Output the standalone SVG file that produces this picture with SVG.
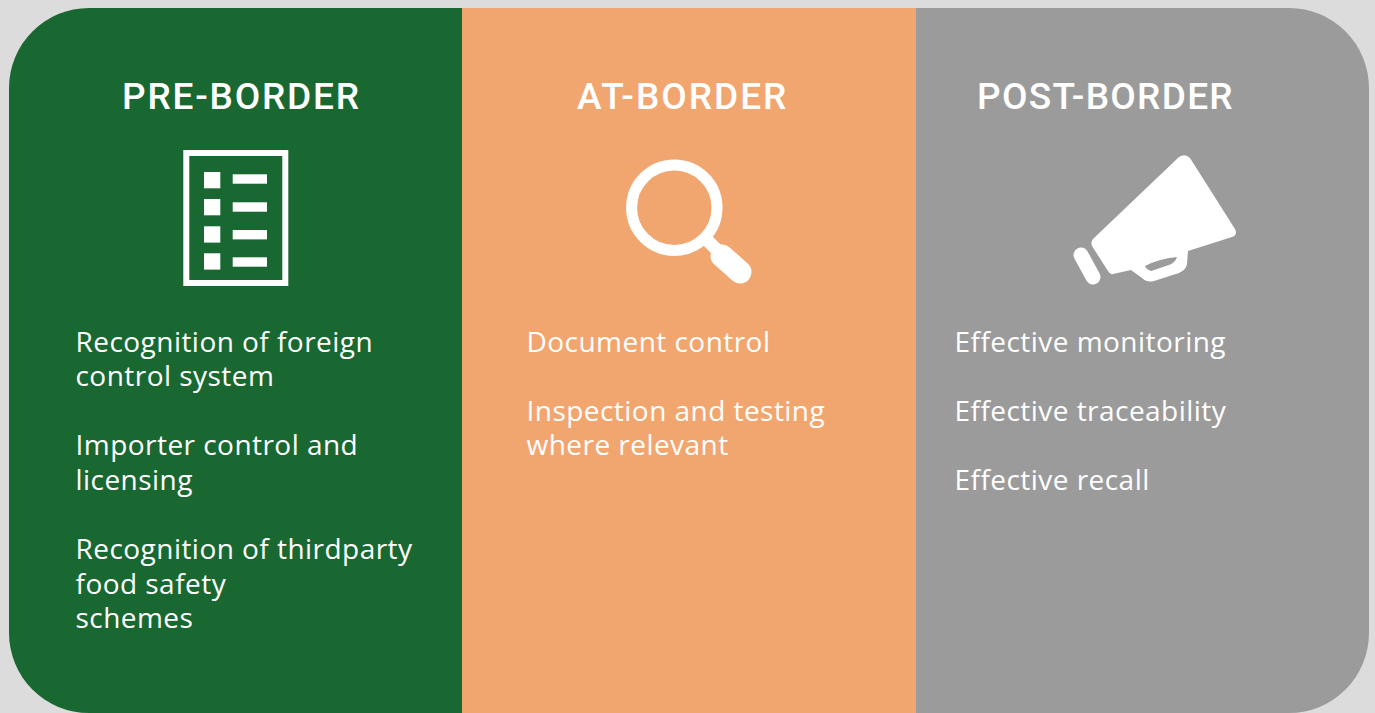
<svg xmlns="http://www.w3.org/2000/svg" width="1375" height="713" viewBox="0 0 1375 713">
<style>
.h{font-family:"Roboto","Liberation Sans",sans-serif;font-weight:500;font-size:37px;fill:#fff;letter-spacing:1.5px}
.b{font-family:"Open Sans","Liberation Sans",sans-serif;font-size:28px;fill:#fff;letter-spacing:.46px}
.w{fill:#fff}
</style>
<rect width="1375" height="713" fill="#dcdcdc"/>
<g id="pre-border">
<path d="M462 8H89A80 80 0 0 0 9 88V633A80 80 0 0 0 89 713H462Z" fill="#1a6831"/>
<text class="h" x="122" y="109" style="letter-spacing:1.8px">PRE-BORDER</text>
<rect x="186.3" y="153" width="99" height="130" fill="none" stroke="#fff" stroke-width="6"/>
<g class="w">
<rect x="204" y="172" width="16.3" height="16.3"/><rect x="204" y="199" width="16.3" height="16.3"/><rect x="204" y="226.3" width="16.3" height="16.3"/><rect x="204" y="253.3" width="16.3" height="16.3"/>
<rect x="232.7" y="174.3" width="34.3" height="9.4"/><rect x="232.7" y="202.3" width="34.3" height="9.4"/><rect x="232.7" y="230" width="34.3" height="9.4"/><rect x="232.7" y="257.3" width="34.3" height="9.4"/>
</g>
<text class="b" x="75.5" y="352">Recognition of foreign</text>
<text class="b" x="75.5" y="386">control system</text>
<text class="b" x="75.5" y="455">Importer control and</text>
<text class="b" x="75.5" y="490">licensing</text>
<text class="b" x="75.5" y="559">Recognition of thirdparty</text>
<text class="b" x="75.5" y="594">food safety</text>
<text class="b" x="75.5" y="628">schemes</text>
</g>
<g id="at-border">
<rect x="462" y="8" width="454" height="705" fill="#f2a66f"/>
<text class="h" x="577" y="109" style="letter-spacing:2px">AT-BORDER</text>
<circle cx="674.3" cy="207.7" r="42.7" fill="none" stroke="#fff" stroke-width="11"/>
<path d="M708 241L720 253" stroke="#fff" stroke-width="13" fill="none"/>
<path d="M722 256L740 272" stroke="#fff" stroke-width="23" stroke-linecap="round" fill="none"/>
<text class="b" x="526.5" y="352">Document control</text>
<text class="b" x="526.5" y="421">Inspection and testing</text>
<text class="b" x="526.5" y="455">where relevant</text>
</g>
<g id="post-border">
<path d="M916 8H1289A80 80 0 0 1 1369 88V633A80 80 0 0 1 1289 713H916Z" fill="#9b9b9b"/>
<text class="h" x="977" y="109" style="letter-spacing:1.3px">POST-BORDER</text>
<path fill-rule="evenodd" class="w" d="M1179 157Q1185 153 1190 158L1235 229Q1238 235 1232 237L1188 251L1187 264Q1186 270 1179 273L1154 281Q1147 283 1142 278L1131 270L1113 274Q1110 275 1108 271L1092 246Q1090 241 1094 238ZM1145 266Q1146 269 1151 271L1169 265Q1175 263 1177 257Q1158 259 1145 266Z"/>
<path d="M1081 255L1093 277" stroke="#fff" stroke-width="15" stroke-linecap="round" fill="none"/>
<text class="b" x="954.5" y="352">Effective monitoring</text>
<text class="b" x="954.5" y="421">Effective traceability</text>
<text class="b" x="954.5" y="490">Effective recall</text>
</g>
</svg>
